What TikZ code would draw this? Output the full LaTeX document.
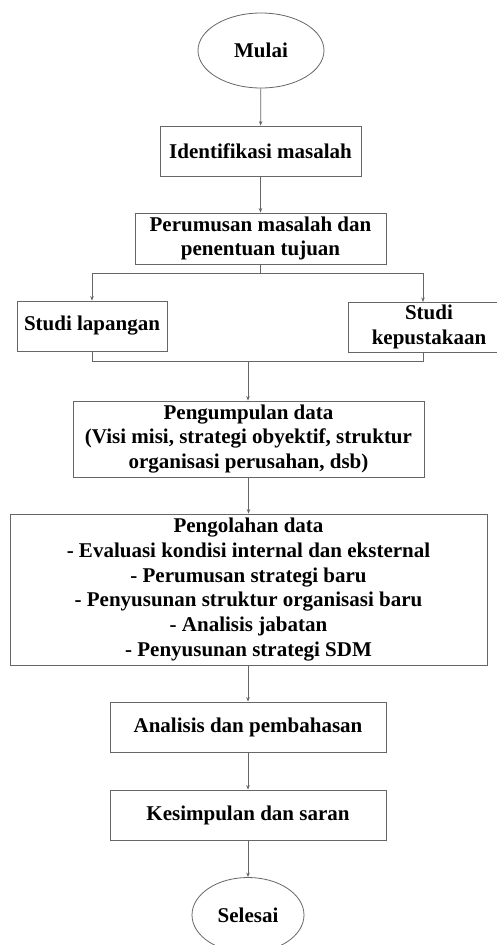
\documentclass[tikz,border=0pt]{standalone}
\usepackage{fontspec}
\setmainfont{Liberation Serif}
\usetikzlibrary{arrows.meta,shapes.geometric}
\begin{document}
\begin{tikzpicture}[x=1pt,y=1pt,
  every node/.style={font=\bfseries\fontsize{21}{24.8}\selectfont, text=black, align=center, inner sep=0pt},
  box/.style={draw=black!60, line width=0.8pt, rectangle},
  term/.style={draw=black!60, line width=0.8pt, ellipse},
  line/.style={draw=black!60, line width=0.8pt},
  arr/.style={line, -{Stealth[length=4.5pt,width=3.5pt]}}]
\useasboundingbox (0,0) rectangle (496,-945);
\fill[white] (0,0) rectangle (496,-945);
\node[term, minimum width=126, minimum height=75] (mulai) at (261,-50.5) {Mulai};
\node[box, minimum width=201, minimum height=50] (ident) at (260.5,-151) {Identifikasi masalah};
\node[box, minimum width=251, minimum height=51] (rumus) at (260.5,-238.5) {Perumusan masalah dan\\penentuan tujuan};
\node[box, minimum width=150, minimum height=50] (lap) at (92,-326) {Studi lapangan};
\node[box, minimum width=162, minimum height=50] (pus) at (429,-327) {Studi\\kepustakaan};
\node[box, minimum width=351, minimum height=76] (kumpul) at (248.5,-439) {Pengumpulan data\\(Visi misi, strategi obyektif, struktur\\organisasi perusahan, dsb)};
\node[box, minimum width=477, minimum height=151] (olah) at (248.5,-589.5) {Pengolahan data\\- Evaluasi kondisi internal dan eksternal\\- Perumusan strategi baru\\- Penyusunan struktur organisasi baru\\- Analisis jabatan\\- Penyusunan strategi SDM};
\node[box, minimum width=276, minimum height=50] (anal) at (248,-727) {Analisis dan pembahasan};
\node[box, minimum width=276, minimum height=50] (simp) at (248,-815) {Kesimpulan dan saran};
\node[term, minimum width=112, minimum height=75] (selesai) at (248,-915) {Selesai};
\coordinate (sp) at (260.5,-273);
\coordinate (sl) at (92,-273);
\coordinate (sr) at (423,-273);
\coordinate (pt) at (423,-302);
\coordinate (pb) at (423,-352);
\coordinate (ml) at (92,-361);
\coordinate (mr) at (423,-361);
\coordinate (mm) at (248,-361);
\draw[arr] (mulai) -- (ident);
\draw[arr] (ident) -- (rumus);
\draw[line] (rumus.south) -- (sp);
\draw[line] (sl) -- (sr);
\draw[arr] (sl) -- (lap.north);
\draw[arr] (sr) -- (pt);
\draw[line] (lap.south) -- (ml) -- (mr) -- (pb);
\draw[arr] (mm) -- (kumpul.north -| mm);
\draw[arr] (kumpul) -- (olah);
\draw[arr] (olah.south -| anal) -- (anal);
\draw[arr] (anal) -- (simp);
\draw[arr] (simp) -- (selesai);
\end{tikzpicture}
\end{document}
